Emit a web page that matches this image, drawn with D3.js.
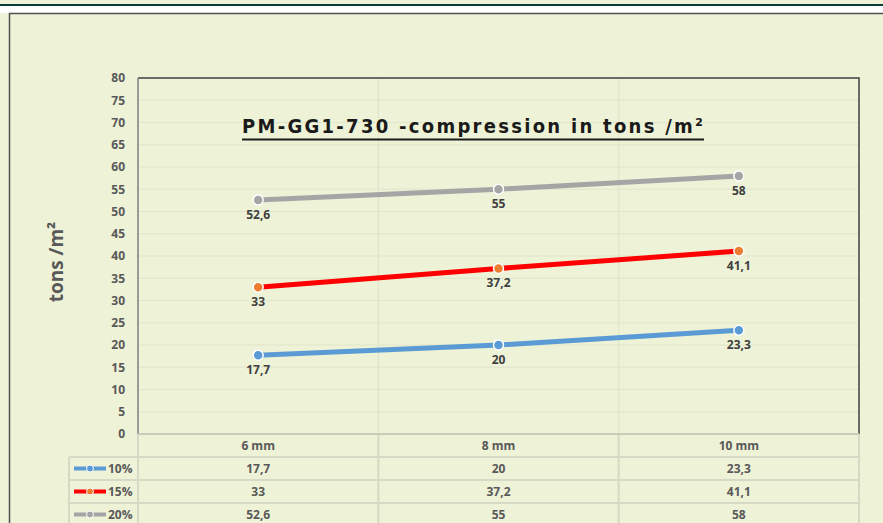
<!DOCTYPE html>
<html><head><meta charset="utf-8">
<script src="https://cdn.jsdelivr.net/npm/d3@7/dist/d3.min.js"></script>
<style>body{margin:0;background:#eef2d6;}svg{display:block;}</style>
</head><body>
<svg id="chart" width="883" height="523"></svg>
<script>
const categories = ["6 mm", "8 mm", "10 mm"];
const seriesNames = ["10%", "15%", "20%"];
const values10 = [17.7, 20, 23.3];
const values15 = [33, 37.2, 41.1];
const values20 = [52.6, 55, 58];
const yTicks = [0,5,10,15,20,25,30,35,40,45,50,55,60,65,70,75,80];
const title = "PM-GG1-730 -compression in tons /m²";
const yTitle = "tons /m²";

const lineColors = ["#5b9bd5", "#ff0000", "#a5a5a5"];
const markerColors = ["#5b9bd5", "#ed7d31", "#a5a5a5"];
const seriesVals = [values10, values15, values20];
const fmt = v => String(v).replace(".", ",");

const svg = d3.select("#chart");
const bg = "#eef2d6";
svg.append("rect").attr("width",883).attr("height",523).attr("fill",bg);
// top band
svg.append("rect").attr("x",0).attr("y",6).attr("width",883).attr("height",7).attr("fill","#ffffff");
svg.append("rect").attr("x",0).attr("y",4).attr("width",883).attr("height",2).attr("fill","#0d3b3d");
// outer chart frame
svg.append("rect").attr("x",9.5).attr("y",13.5).attr("width",900).attr("height",540)
  .attr("fill",bg).attr("stroke","#505050").attr("stroke-width",1.5);

const L = 138, R = 859, T = 78, B = 434;
const x = d3.scaleBand().domain(categories).range([L, R]);
const y = d3.scaleLinear().domain([0, 80]).range([B, T]);

// gridlines
svg.append("g").selectAll("line").data(yTicks.filter(t => t > 0)).join("line")
  .attr("x1", L).attr("x2", R).attr("y1", d => y(d)).attr("y2", d => y(d))
  .attr("stroke", "#e0e5cb").attr("stroke-width", 1.2);
svg.append("g").selectAll("line").data(categories.slice(1)).join("line")
  .attr("x1", d => x(d)).attr("x2", d => x(d)).attr("y1", T).attr("y2", B)
  .attr("stroke", "#e0e5cb").attr("stroke-width", 1.2);

// plot border top/right
svg.append("path").attr("d", `M${L},${T}H${R}V${B}`).attr("fill","none")
  .attr("stroke","#404040").attr("stroke-width",1.5);
// left axis
svg.append("line").attr("x1",L).attr("x2",L).attr("y1",T).attr("y2",B)
  .attr("stroke","#7f7f7f").attr("stroke-width",1.5);

// y axis
const yAxis = d3.axisLeft(y).tickValues(yTicks).tickSize(0).tickPadding(13);
const gy = svg.append("g").attr("transform", `translate(${L},0)`).call(yAxis);
gy.select(".domain").remove();
gy.selectAll("text").attr("font-family","'Open Sans', sans-serif").attr("font-size",12)
  .attr("font-weight","bold").attr("fill","#595959");

// y title
svg.append("text").attr("transform","translate(63,262) rotate(-90)")
  .attr("text-anchor","middle").attr("font-family","'Open Sans', sans-serif")
  .attr("font-size",19).attr("font-weight","bold").attr("fill","#595959").text(yTitle);

// title
svg.append("text").attr("x",242).attr("y",133)
  .attr("font-family","'DejaVu Sans Condensed', 'DejaVu Sans', sans-serif").attr("font-weight","bold")
  .attr("font-size",20).attr("fill","#1a1a1a")
  .attr("textLength",461).attr("lengthAdjust","spacing").text(title);
svg.append("line").attr("x1",242).attr("x2",704).attr("y1",139.5).attr("y2",139.5)
  .attr("stroke","#1a1a1a").attr("stroke-width",2);

// table
const rowTop = [434, 457, 480, 503, 526];
const tableColor = "#d6d9c6";
const tg = svg.append("g");
[L].concat(categories.slice(1).map(c => x(c))).concat([R]).forEach(xx => {
  tg.append("line").attr("x1",xx).attr("x2",xx).attr("y1",B).attr("y2",523)
    .attr("stroke",tableColor).attr("stroke-width",2);
});
tg.append("line").attr("x1",69).attr("x2",69).attr("y1",457).attr("y2",523)
  .attr("stroke",tableColor).attr("stroke-width",2);
tg.append("line").attr("x1",L).attr("x2",R).attr("y1",B).attr("y2",B)
  .attr("stroke","#c8cbb8").attr("stroke-width",2);
rowTop.slice(1).forEach(yy => {
  tg.append("line").attr("x1",69).attr("x2",R).attr("y1",yy).attr("y2",yy)
    .attr("stroke",tableColor).attr("stroke-width",2);
});
tg.selectAll("text.hdr").data(categories).join("text").attr("class","hdr")
  .attr("x", d => x(d) + x.bandwidth()/2).attr("y", 449.5)
  .attr("text-anchor","middle").attr("font-family","'Open Sans', sans-serif")
  .attr("font-size",12).attr("font-weight","bold").attr("fill","#595959").text(d => d);
seriesVals.forEach((vals, i) => {
  const cy = (rowTop[i+1] + rowTop[i+2]) / 2;
  tg.append("line").attr("x1",74).attr("x2",106).attr("y1",cy).attr("y2",cy)
    .attr("stroke",lineColors[i]).attr("stroke-width",4);
  tg.append("circle").attr("cx",90).attr("cy",cy).attr("r",3.5)
    .attr("fill",markerColors[i]).attr("stroke","#ffffff").attr("stroke-width",1);
  tg.append("text").attr("x",108).attr("y",cy+4.5).attr("font-family","'Open Sans', sans-serif")
    .attr("font-size",12).attr("font-weight","bold").attr("fill","#595959").text(seriesNames[i]);
  tg.selectAll(null).data(vals).join("text")
    .attr("x",(d,j) => x(categories[j]) + x.bandwidth()/2).attr("y", cy+4.5)
    .attr("text-anchor","middle").attr("font-family","'Open Sans', sans-serif")
    .attr("font-size",12).attr("font-weight","bold").attr("fill","#595959").text(d => fmt(d));
});

// lines
const line = d3.line().x((d,j) => x(categories[j]) + x.bandwidth()/2).y(d => y(d));
seriesVals.forEach((vals, i) => {
  const g = svg.append("g");
  g.append("path").attr("d", line(vals)).attr("fill","none")
    .attr("stroke",lineColors[i]).attr("stroke-width",5).attr("stroke-linecap","round");
  g.selectAll("circle").data(vals).join("circle")
    .attr("cx",(d,j) => x(categories[j]) + x.bandwidth()/2).attr("cy", d => y(d))
    .attr("r",5).attr("fill",markerColors[i]).attr("stroke","#ffffff").attr("stroke-width",1.5);
  g.selectAll("text").data(vals).join("text")
    .attr("x",(d,j) => x(categories[j]) + x.bandwidth()/2).attr("y", d => y(d) + 19)
    .attr("text-anchor","middle").attr("font-family","'Open Sans', sans-serif")
    .attr("font-size",12).attr("font-weight","bold").attr("fill","#404040").text(d => fmt(d));
});
</script>
</body></html>
